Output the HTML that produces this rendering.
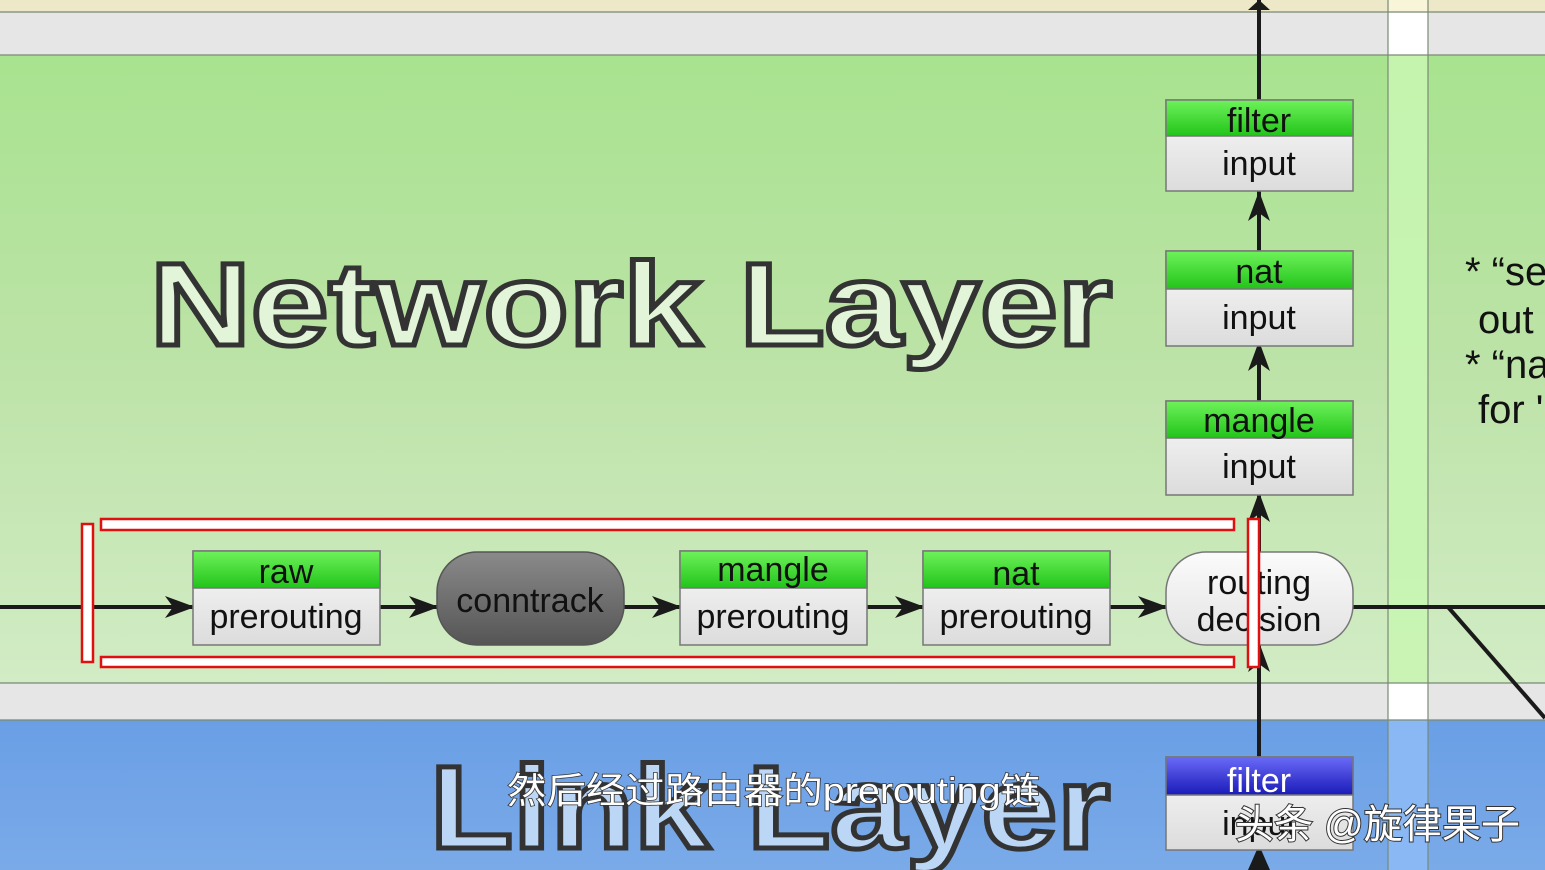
<!DOCTYPE html>
<html><head><meta charset="utf-8"><style>
html,body{margin:0;padding:0;width:1545px;height:870px;overflow:hidden;background:#fff}
svg{display:block}
text{font-family:"Liberation Sans","Noto Sans CJK SC",sans-serif}
</style></head><body>
<svg width="1545" height="870" viewBox="0 0 1545 870" xmlns="http://www.w3.org/2000/svg">
<defs>
<linearGradient id="gr" x1="0" y1="0" x2="0" y2="1"><stop offset="0" stop-color="#a8e38f"/><stop offset="0.5" stop-color="#bde3a8"/><stop offset="1" stop-color="#d2ecc5"/></linearGradient>
<linearGradient id="bl" x1="0" y1="0" x2="0" y2="1"><stop offset="0" stop-color="#6a9fe6"/><stop offset="1" stop-color="#7aaae8"/></linearGradient>
<linearGradient id="hd" x1="0" y1="0" x2="0" y2="1"><stop offset="0" stop-color="#6ef25a"/><stop offset="1" stop-color="#22c41a"/></linearGradient>
<linearGradient id="bh" x1="0" y1="0" x2="0" y2="1"><stop offset="0" stop-color="#6a6af8"/><stop offset="1" stop-color="#1a1ab8"/></linearGradient>
<linearGradient id="bd" x1="0" y1="0" x2="0" y2="1"><stop offset="0" stop-color="#fafafa"/><stop offset="1" stop-color="#dcdcdc"/></linearGradient>
<linearGradient id="ct" x1="0" y1="0" x2="0" y2="1"><stop offset="0" stop-color="#8a8a8a"/><stop offset="1" stop-color="#555"/></linearGradient>
<linearGradient id="rd" x1="0" y1="0" x2="0" y2="1"><stop offset="0" stop-color="#fbfbfb"/><stop offset="1" stop-color="#e2e2e2"/></linearGradient>
</defs>
<rect x="0" y="0" width="1545" height="12" fill="#ece8c8"/>
<rect x="0" y="12" width="1545" height="43" fill="#e6e6e6"/>
<rect x="0" y="55" width="1545" height="628" fill="url(#gr)"/>
<rect x="0" y="683" width="1545" height="37" fill="#e6e6e6"/>
<rect x="0" y="720" width="1545" height="150" fill="url(#bl)"/>
<rect x="1388" y="0" width="40" height="12" fill="#f8f5d8"/>
<rect x="1388" y="12" width="40" height="43" fill="#fff"/>
<rect x="1388" y="55" width="40" height="628" fill="#c8f5b2" opacity="0.9"/>
<rect x="1388" y="683" width="40" height="37" fill="#fff"/>
<rect x="1388" y="720" width="40" height="150" fill="#8ab8f5"/>
<g stroke="#7a8a74" stroke-width="1.2">
<line x1="0" y1="12" x2="1545" y2="12"/><line x1="0" y1="55" x2="1545" y2="55"/>
<line x1="0" y1="683" x2="1545" y2="683"/><line x1="0" y1="720" x2="1545" y2="720"/>
<line x1="1388" y1="0" x2="1388" y2="870"/><line x1="1428" y1="0" x2="1428" y2="870"/>
</g>
<text x="150" y="345" font-size="118" font-weight="bold" fill="#e2f5d8" stroke="#333" stroke-width="5" textLength="962" lengthAdjust="spacingAndGlyphs">Network Layer</text>
<text x="430" y="848" font-size="118" font-weight="bold" fill="#bcd6f5" stroke="#333" stroke-width="5" textLength="680" lengthAdjust="spacingAndGlyphs">Link Layer</text>
<g font-size="40" fill="#111">
<text x="1465" y="285">* “se</text><text x="1478" y="333">out</text>
<text x="1465" y="378">* “na</text><text x="1478" y="423">for '</text>
</g>
<g stroke="#1a1a1a" stroke-width="4" fill="none">
<line x1="0" y1="607" x2="1166" y2="607"/>
<line x1="1352" y1="607" x2="1545" y2="607"/>
<line x1="1448" y1="607" x2="1545" y2="718"/>
<line x1="1259" y1="0" x2="1259" y2="100"/>
<line x1="1259" y1="191" x2="1259" y2="251"/>
<line x1="1259" y1="346" x2="1259" y2="401"/>
<line x1="1259" y1="495" x2="1259" y2="552"/>
<line x1="1259" y1="645" x2="1259" y2="757"/>
</g>
<g fill="#1a1a1a">
<polygon points="195,607 165,596 173,607 165,618"/>
<polygon points="439,607 409,596 417,607 409,618"/>
<polygon points="682,607 652,596 660,607 652,618"/>
<polygon points="925,607 895,596 903,607 895,618"/>
<polygon points="1168,607 1138,596 1146,607 1138,618"/>
<polygon points="1259,0 1248,10 1270,10"/>
<polygon points="1259,191 1248,221 1259,213 1270,221"/>
<polygon points="1259,341 1248,371 1259,363 1270,371"/>
<polygon points="1259,492 1248,522 1259,514 1270,522"/>
<polygon points="1259,642 1248,672 1259,664 1270,672"/>
<polygon points="1259,845 1248,870 1270,870"/>
</g>
<g stroke="#777" stroke-width="1.5">
<rect x="193" y="551" width="187" height="94" fill="url(#bd)"/><rect x="193" y="551" width="187" height="37" fill="url(#hd)"/>
<rect x="680" y="551" width="187" height="94" fill="url(#bd)"/><rect x="680" y="551" width="187" height="37" fill="url(#hd)"/>
<rect x="923" y="551" width="187" height="94" fill="url(#bd)"/><rect x="923" y="551" width="187" height="37" fill="url(#hd)"/>
<rect x="1166" y="100" width="187" height="91" fill="url(#bd)"/><rect x="1166" y="100" width="187" height="36" fill="url(#hd)"/>
<rect x="1166" y="251" width="187" height="95" fill="url(#bd)"/><rect x="1166" y="251" width="187" height="38" fill="url(#hd)"/>
<rect x="1166" y="401" width="187" height="94" fill="url(#bd)"/><rect x="1166" y="401" width="187" height="37" fill="url(#hd)"/>
<rect x="1166" y="757" width="187" height="93" fill="url(#bd)"/><rect x="1166" y="757" width="187" height="38" fill="url(#bh)"/>
<rect x="437" y="552" width="187" height="93" rx="40" fill="url(#ct)" stroke="#555"/>
<rect x="1166" y="552" width="187" height="93" rx="40" fill="url(#rd)"/>
</g>
<g font-size="34" text-anchor="middle" fill="#111">
<text x="286" y="583">raw</text><text x="286" y="628">prerouting</text>
<text x="773" y="581">mangle</text><text x="773" y="628">prerouting</text>
<text x="1016" y="585">nat</text><text x="1016" y="628">prerouting</text>
<text x="530" y="612">conntrack</text>
<text x="1259" y="594">routing</text><text x="1259" y="631">decision</text>
<text x="1259" y="132">filter</text><text x="1259" y="175">input</text>
<text x="1259" y="283">nat</text><text x="1259" y="329">input</text>
<text x="1259" y="432">mangle</text><text x="1259" y="478">input</text>
<text x="1259" y="792" fill="#fff">filter</text><text x="1259" y="835">input</text>
</g>
<g fill="#fff" stroke="#e01010" stroke-width="2.5">
<rect x="101" y="519" width="1133" height="11"/>
<rect x="101" y="657" width="1133" height="10"/>
<rect x="82" y="524" width="11" height="138"/>
<rect x="1248" y="519" width="11" height="148"/>
</g>
<text x="507" y="803" font-size="36" fill="#fff" stroke="#333" stroke-width="1.5" paint-order="stroke" textLength="533" lengthAdjust="spacingAndGlyphs">然后经过路由器的prerouting链</text>
<text x="1235" y="838" font-size="40" fill="#fff" stroke="#333" stroke-width="2" paint-order="stroke" textLength="285" lengthAdjust="spacingAndGlyphs">头条 @旋律果子</text>
</svg>
</body></html>
